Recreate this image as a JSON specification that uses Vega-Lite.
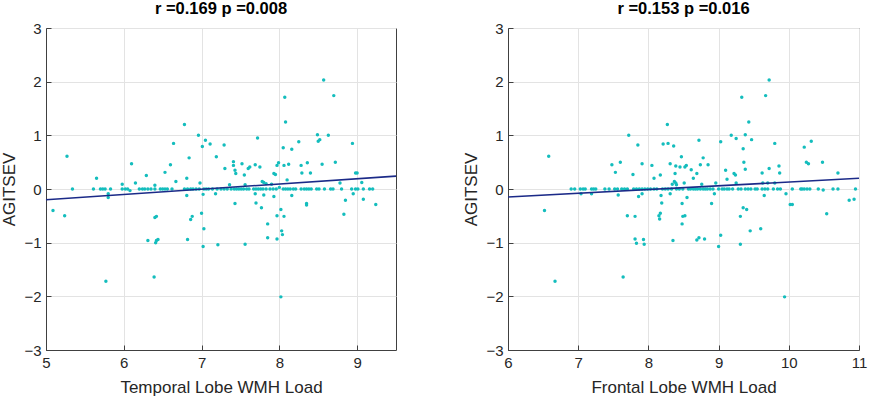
{
"$schema": "https://vega.github.io/schema/vega-lite/v6.json",
"background": "white",
"padding": {"left": 0, "top": 0, "right": 4, "bottom": 0},
"spacing": 62,
"config": {
  "font": "Liberation Sans",
  "view": {"stroke": "#404040", "strokeWidth": 1},
  "axis": {"labelFont": "Liberation Sans", "titleFont": "Liberation Sans", "labelFontSize": 15, "titleFontSize": 17, "titleFontWeight": "normal", "labelColor": "#262626", "titleColor": "#262626", "gridColor": "#e3e3e3", "gridWidth": 1, "domainColor": "#404040", "tickColor": "#404040", "tickSize": -5, "labelPadding": 10, "labelFlush": false, "format": "d"},
  "title": {"font": "Liberation Sans", "fontSize": 16.5, "fontWeight": "bold", "color": "#000000", "offset": 0}
},
"datasets": {
  "temporal": [
{"x":5.09,"y":-0.40},{"x":5.24,"y":-0.50},{"x":5.27,"y":0.61},{"x":5.65,"y":0.20},{"x":5.77,"y":-1.72},{"x":5.80,"y":-0.09},{"x":5.80,"y":-0.16},{"x":5.98,"y":0.09},{"x":6.08,"y":-0.03},{"x":6.10,"y":0.47},{"x":6.15,"y":0.11},{"x":6.29,"y":0.25},{"x":6.31,"y":-0.96},{"x":6.39,"y":-1.64},{"x":6.40,"y":0.07},{"x":6.40,"y":-0.53},{"x":6.42,"y":-0.51},{"x":6.41,"y":-1.0},{"x":6.42,"y":-0.96},{"x":6.44,"y":-0.94},{"x":6.53,"y":0.31},{"x":6.60,"y":0.45},{"x":6.64,"y":0.85},{"x":6.67,"y":0.14},{"x":6.78,"y":1.20},{"x":6.81,"y":0.20},{"x":6.81,"y":-0.12},{"x":6.82,"y":-0.94},{"x":6.84,"y":0.58},{"x":6.86,"y":-0.57},{"x":6.88,"y":-0.51},{"x":6.96,"y":1.0},{"x":6.98,"y":0.11},{"x":7.01,"y":0.79},{"x":7.0,"y":-0.45},{"x":7.02,"y":-0.1},{"x":7.03,"y":-0.74},{"x":7.02,"y":-1.07},{"x":7.05,"y":0.91},{"x":7.11,"y":0.84},{"x":7.18,"y":-0.09},{"x":7.19,"y":0.60},{"x":7.21,"y":-1.04},{"x":7.29,"y":0.82},{"x":7.30,"y":0.38},{"x":7.36,"y":0.08},{"x":7.41,"y":0.51},{"x":7.41,"y":0.44},{"x":7.43,"y":0.35},{"x":7.44,"y":0.29},{"x":7.43,"y":-0.27},{"x":7.52,"y":0.47},{"x":7.55,"y":0.26},{"x":7.56,"y":0.08},{"x":7.56,"y":-1.03},{"x":7.60,"y":0.38},{"x":7.62,"y":0.41},{"x":7.69,"y":0.45},{"x":7.69,"y":-0.09},{"x":7.70,"y":-0.26},{"x":7.72,"y":0.95},{"x":7.75,"y":0.41},{"x":7.77,"y":-0.35},{"x":7.78,"y":0.14},{"x":7.80,"y":0.12},{"x":7.80,"y":-0.11},{"x":7.83,"y":0.10},{"x":7.85,"y":-0.65},{"x":7.85,"y":-0.91},{"x":7.90,"y":0.09},{"x":7.93,"y":0.29},{"x":7.93,"y":-0.14},{"x":7.97,"y":0.44},{"x":7.95,"y":0.27},{"x":7.97,"y":-0.50},{"x":7.97,"y":-0.93},{"x":7.99,"y":0.49},{"x":8.0,"y":0.03},{"x":8.02,"y":-2.01},{"x":8.02,"y":-0.38},{"x":8.03,"y":-0.78},{"x":8.04,"y":-0.85},{"x":8.05,"y":0.77},{"x":8.07,"y":1.71},{"x":8.06,"y":0.44},{"x":8.06,"y":-0.51},{"x":8.08,"y":1.25},{"x":8.10,"y":0.17},{"x":8.12,"y":0.46},{"x":8.16,"y":-0.12},{"x":8.16,"y":0.74},{"x":8.25,"y":0.88},{"x":8.28,"y":0.44},{"x":8.29,"y":0.30},{"x":8.35,"y":-0.27},{"x":8.35,"y":-0.30},{"x":8.36,"y":0.49},{"x":8.40,"y":0.30},{"x":8.49,"y":1.01},{"x":8.50,"y":0.89},{"x":8.52,"y":0.92},{"x":8.55,"y":0.46},{"x":8.57,"y":2.03},{"x":8.63,"y":1.0},{"x":8.70,"y":1.74},{"x":8.72,"y":0.50},{"x":8.78,"y":0.11},{"x":8.83,"y":-0.47},{"x":8.85,"y":-0.21},{"x":8.94,"y":0.85},{"x":8.95,"y":-0.09},{"x":8.98,"y":0.30},{"x":9.0,"y":0.30},{"x":9.06,"y":0.12},{"x":9.08,"y":-0.19},{"x":9.24,"y":-0.29},
{"x":5.34,"y":0},{"x":5.61,"y":0},{"x":5.70,"y":0},{"x":5.73,"y":0},{"x":5.76,"y":0},{"x":5.83,"y":0},{"x":5.98,"y":0},{"x":6.02,"y":0},{"x":6.05,"y":0},{"x":6.20,"y":0},{"x":6.24,"y":0},{"x":6.27,"y":0},{"x":6.31,"y":0},{"x":6.35,"y":0},{"x":6.40,"y":0},{"x":6.47,"y":0},{"x":6.50,"y":0},{"x":6.53,"y":0},{"x":6.56,"y":0},{"x":6.62,"y":0},{"x":6.78,"y":0},{"x":6.82,"y":0},{"x":6.86,"y":0},{"x":6.89,"y":0},{"x":6.93,"y":0},{"x":6.97,"y":0},{"x":7.03,"y":0},{"x":7.06,"y":0},{"x":7.09,"y":0},{"x":7.14,"y":0},{"x":7.20,"y":0},{"x":7.25,"y":0},{"x":7.29,"y":0},{"x":7.33,"y":0},{"x":7.38,"y":0},{"x":7.42,"y":0},{"x":7.45,"y":0},{"x":7.48,"y":0},{"x":7.51,"y":0},{"x":7.54,"y":0},{"x":7.58,"y":0},{"x":7.61,"y":0},{"x":7.67,"y":0},{"x":7.70,"y":0},{"x":7.73,"y":0},{"x":7.76,"y":0},{"x":7.79,"y":0},{"x":7.83,"y":0},{"x":7.88,"y":0},{"x":7.92,"y":0},{"x":7.96,"y":0},{"x":8.05,"y":0},{"x":8.08,"y":0},{"x":8.11,"y":0},{"x":8.14,"y":0},{"x":8.18,"y":0},{"x":8.21,"y":0},{"x":8.28,"y":0},{"x":8.32,"y":0},{"x":8.35,"y":0},{"x":8.38,"y":0},{"x":8.41,"y":0},{"x":8.48,"y":0},{"x":8.51,"y":0},{"x":8.58,"y":0},{"x":8.66,"y":0},{"x":8.69,"y":0},{"x":8.80,"y":0},{"x":8.93,"y":0},{"x":8.98,"y":0},{"x":9.01,"y":0},{"x":9.08,"y":0},{"x":9.16,"y":0},{"x":9.20,"y":0}
  ],
  "frontal": [
{"x":6.52,"y":-0.40},{"x":6.58,"y":0.61},{"x":6.67,"y":-1.72},{"x":7.04,"y":-0.09},{"x":7.19,"y":-0.09},{"x":7.48,"y":0.45},{"x":7.53,"y":0.31},{"x":7.57,"y":-0.11},{"x":7.60,"y":0.50},{"x":7.64,"y":-1.64},{"x":7.70,"y":-0.50},{"x":7.72,"y":1.0},{"x":7.78,"y":0.27},{"x":7.81,"y":-0.51},{"x":7.81,"y":-0.93},{"x":7.83,"y":-1.01},{"x":7.85,"y":0.82},{"x":7.86,"y":-0.14},{"x":7.91,"y":0.47},{"x":7.91,"y":-0.09},{"x":7.93,"y":-0.94},{"x":7.94,"y":-1.03},{"x":8.05,"y":0.44},{"x":8.08,"y":0.20},{"x":8.15,"y":-0.50},{"x":8.16,"y":-0.56},{"x":8.17,"y":0.26},{"x":8.17,"y":-0.45},{"x":8.18,"y":-0.12},{"x":8.19,"y":-0.26},{"x":8.21,"y":0.84},{"x":8.27,"y":1.2},{"x":8.28,"y":0.85},{"x":8.31,"y":0.47},{"x":8.31,"y":-0.09},{"x":8.34,"y":0.09},{"x":8.35,"y":-0.96},{"x":8.36,"y":0.80},{"x":8.37,"y":0.14},{"x":8.38,"y":0.29},{"x":8.39,"y":0.11},{"x":8.40,"y":0.08},{"x":8.39,"y":0.43},{"x":8.45,"y":0.41},{"x":8.47,"y":0.60},{"x":8.48,"y":-0.27},{"x":8.48,"y":-0.65},{"x":8.49,"y":-0.51},{"x":8.52,"y":-0.50},{"x":8.51,"y":0.11},{"x":8.52,"y":0.41},{"x":8.54,"y":0.44},{"x":8.55,"y":-0.16},{"x":8.61,"y":0.36},{"x":8.64,"y":0.20},{"x":8.69,"y":0.29},{"x":8.69,"y":-0.95},{"x":8.72,"y":-0.91},{"x":8.72,"y":0.91},{"x":8.74,"y":0.45},{"x":8.76,"y":0.09},{"x":8.78,"y":0.58},{"x":8.80,"y":-0.93},{"x":8.85,"y":0.45},{"x":8.90,"y":-0.27},{"x":8.94,"y":-0.09},{"x":8.96,"y":0.11},{"x":9.0,"y":-1.07},{"x":9.03,"y":0.88},{"x":9.03,"y":-0.86},{"x":9.10,"y":0.35},{"x":9.12,"y":0.18},{"x":9.18,"y":1.0},{"x":9.22,"y":0.29},{"x":9.24,"y":0.26},{"x":9.25,"y":0.11},{"x":9.25,"y":0.94},{"x":9.31,"y":-0.51},{"x":9.31,"y":-1.03},{"x":9.33,"y":1.71},{"x":9.35,"y":0.75},{"x":9.35,"y":-0.35},{"x":9.36,"y":0.50},{"x":9.38,"y":1.01},{"x":9.38,"y":0.37},{"x":9.40,"y":-0.38},{"x":9.43,"y":1.25},{"x":9.45,"y":-0.78},{"x":9.47,"y":0.92},{"x":9.60,"y":-0.74},{"x":9.62,"y":0.30},{"x":9.65,"y":-0.12},{"x":9.63,"y":0.11},{"x":9.70,"y":0.11},{"x":9.67,"y":1.74},{"x":9.72,"y":2.03},{"x":9.72,"y":0.38},{"x":9.80,"y":0.85},{"x":9.80,"y":0.11},{"x":9.86,"y":0.43},{"x":9.87,"y":0.30},{"x":9.94,"y":-2.01},{"x":9.96,"y":-0.09},{"x":10.02,"y":-0.29},{"x":10.05,"y":-0.29},{"x":10.22,"y":0.78},{"x":10.25,"y":0.50},{"x":10.28,"y":0.47},{"x":10.32,"y":0.89},{"x":10.48,"y":0.50},{"x":10.49,"y":-0.02},{"x":10.54,"y":-0.46},{"x":10.70,"y":0.30},{"x":10.86,"y":-0.21},{"x":10.93,"y":-0.19},
{"x":6.90,"y":0},{"x":6.95,"y":0},{"x":7.03,"y":0},{"x":7.07,"y":0},{"x":7.10,"y":0},{"x":7.19,"y":0},{"x":7.22,"y":0},{"x":7.25,"y":0},{"x":7.38,"y":0},{"x":7.44,"y":0},{"x":7.52,"y":0},{"x":7.56,"y":0},{"x":7.62,"y":0},{"x":7.66,"y":0},{"x":7.70,"y":0},{"x":7.79,"y":0},{"x":7.83,"y":0},{"x":7.87,"y":0},{"x":7.91,"y":0},{"x":7.95,"y":0},{"x":7.99,"y":0},{"x":8.03,"y":0},{"x":8.08,"y":0},{"x":8.12,"y":0},{"x":8.20,"y":0},{"x":8.24,"y":0},{"x":8.28,"y":0},{"x":8.33,"y":0},{"x":8.40,"y":0},{"x":8.44,"y":0},{"x":8.49,"y":0},{"x":8.57,"y":0},{"x":8.60,"y":0},{"x":8.64,"y":0},{"x":8.67,"y":0},{"x":8.70,"y":0},{"x":8.74,"y":0},{"x":8.78,"y":0},{"x":8.81,"y":0},{"x":8.84,"y":0},{"x":8.88,"y":0},{"x":8.92,"y":0},{"x":9.00,"y":0},{"x":9.05,"y":0},{"x":9.08,"y":0},{"x":9.12,"y":0},{"x":9.15,"y":0},{"x":9.20,"y":0},{"x":9.28,"y":0},{"x":9.32,"y":0},{"x":9.38,"y":0},{"x":9.42,"y":0},{"x":9.46,"y":0},{"x":9.52,"y":0},{"x":9.55,"y":0},{"x":9.62,"y":0},{"x":9.66,"y":0},{"x":9.70,"y":0},{"x":9.78,"y":0},{"x":9.84,"y":0},{"x":9.88,"y":0},{"x":10.05,"y":0},{"x":10.17,"y":0},{"x":10.19,"y":0},{"x":10.22,"y":0},{"x":10.26,"y":0},{"x":10.30,"y":0},{"x":10.42,"y":0},{"x":10.63,"y":0},{"x":10.70,"y":0},{"x":10.95,"y":0}
  ],
  "lineT": [{"x":5.0,"y":-0.20},{"x":9.5,"y":0.24}],
  "lineF": [{"x":6.0,"y":-0.15},{"x":11.0,"y":0.20}]
},
"hconcat": [
  {
    "width": 350, "height": 322,
    "title": "r =0.169 p =0.008",
    "layer": [
      {"data": {"name": "temporal"}, "mark": {"type": "circle", "size": 12, "color": "#14BDBD", "opacity": 1},
       "encoding": {
         "x": {"field": "x", "type": "quantitative", "scale": {"domain": [5, 9.5], "nice": false, "zero": false}, "axis": {"title": "Temporal Lobe WMH Load", "values": [5,6,7,8,9], "titlePadding": 9}},
         "y": {"field": "y", "type": "quantitative", "scale": {"domain": [-3, 3], "nice": false}, "axis": {"title": "AGITSEV", "values": [-3,-2,-1,0,1,2,3], "titlePadding": 5}}
       }},
      {"data": {"name": "lineT"}, "mark": {"type": "line", "color": "#1B2A88", "strokeWidth": 1.6},
       "encoding": {"x": {"field": "x", "type": "quantitative"}, "y": {"field": "y", "type": "quantitative"}}}
    ]
  },
  {
    "width": 351, "height": 322,
    "title": "r =0.153 p =0.016",
    "layer": [
      {"data": {"name": "frontal"}, "mark": {"type": "circle", "size": 12, "color": "#14BDBD", "opacity": 1},
       "encoding": {
         "x": {"field": "x", "type": "quantitative", "scale": {"domain": [6, 11], "nice": false, "zero": false}, "axis": {"title": "Frontal Lobe WMH Load", "values": [6,7,8,9,10,11], "titlePadding": 9}},
         "y": {"field": "y", "type": "quantitative", "scale": {"domain": [-3, 3], "nice": false}, "axis": {"title": "AGITSEV", "values": [-3,-2,-1,0,1,2,3], "titlePadding": 5}}
       }},
      {"data": {"name": "lineF"}, "mark": {"type": "line", "color": "#1B2A88", "strokeWidth": 1.6},
       "encoding": {"x": {"field": "x", "type": "quantitative"}, "y": {"field": "y", "type": "quantitative"}}}
    ]
  }
]
}
